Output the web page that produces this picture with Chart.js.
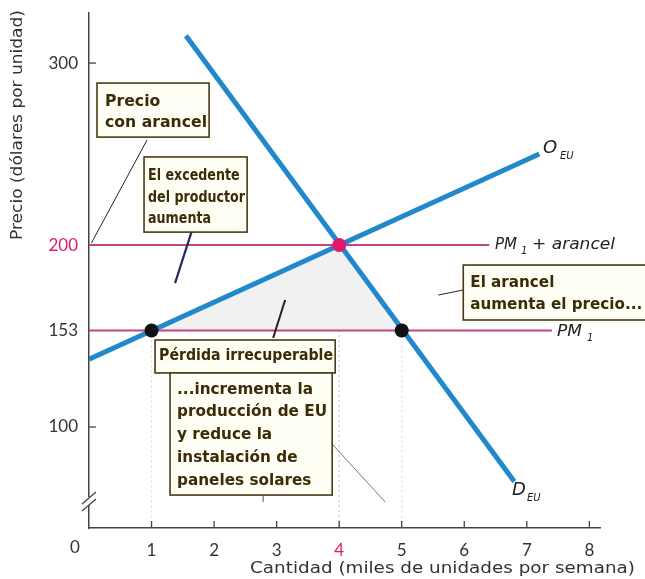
<!DOCTYPE html>
<html>
<head>
<meta charset="utf-8">
<script src="https://cdn.jsdelivr.net/npm/chart.js@4.4.1/dist/chart.umd.min.js"></script>
<style>
  html, body { margin: 0; padding: 0; background: #fff; }
  #wrap { width: 645px; height: 579px; }
</style>
</head>
<body>
<div id="wrap"><canvas id="chart" width="645" height="579"></canvas></div>
<script>
// data
const xTicks = [1, 2, 3, 4, 5, 6, 7, 8]
const yTicks = [100, 153, 200, 300]
const supplyQ = [0, 7.2]
const supplyP = [137.3, 250]
const demandQ = [1.55, 6.8]
const demandP = [315, 70]
const worldPrice = 153
const tariffPrice = 200
const worldLineEnd = 7.4
const tariffLineEnd = 6.4
const lossQ = [1, 4, 5, 1]
const lossP = [153, 200, 153, 153]
const blackQ = [1, 5]
const blackP = [153, 153]
const pinkQ = [4]
const pinkP = [200]

const BLUE = '#2189cb'
const PINK_LINE = '#c2457e'
const PINK = '#e3186b'
const INK = '#3b2c08'
const FONT = 'Lato, "Open Sans", sans-serif'
const WIDE = '"DejaVu Sans", sans-serif'

const pts = (xs, ys) => xs.map((x, i) => ({ x: x, y: ys[i] }))

// boxes in data units: (q0, p0) top-left, (q1, p1) bottom-right; text offsets in px from the box corner
const boxes = [
    { q0: 0.128, p0: 289, q1: 1.92, p1: 259.3, lines: ['Precio', 'con arancel'], dx: 8, dy: [19, 40], w: 102, size: 16 },
    { q0: 0.88, p0: 248.4, q1: 2.528, p1: 207.1, lines: ['El excedente', 'del productor', 'aumenta'], dx: 4, dy: [19, 41, 62], w: 97, size: 15 },
    { q0: 5.984, p0: 189, q1: 8.98, p1: 158.8, lines: ['El arancel', 'aumenta el precio...'], dx: 7, dy: [18, 40], w: 172, size: 16 },
    { q0: 1.056, p0: 147.8, q1: 3.936, p1: 129.7, lines: ['Pérdida irrecuperable'], dx: 4, dy: [16], w: 174, size: 16 },
    { q0: 1.296, p0: 129.7, q1: 3.888, p1: 62.6, lines: ['...incrementa la', 'producción de EU', 'y reduce la', 'instalación de', 'paneles solares'], dx: 7, dy: [17, 39, 62, 85, 108], w: 150, size: 16 }
]
const leaders = [
    { a: [0.928, 257.7], b: [0.04, 201.2], color: '#222', w: 1 },
    { a: [1.648, 208.2], b: [1.376, 179.1], color: '#1d2c55', w: 2.2 },
    { a: [3.136, 169.8], b: [2.944, 148.9], color: '#222', w: 2 },
    { a: [5.584, 172.5], b: [5.984, 175.3], color: '#222', w: 1 },
    { a: [3.856, 91.8], b: [4.736, 58.8], color: '#777', w: 1 },
    { a: [2.784, 62.1], b: [2.784, 58.8], color: '#555', w: 1 }
]

// draw text squeezed or stretched to a given width
function fitText(ctx, text, x, y, width) {
    const m = ctx.measureText(text).width
    ctx.save()
    ctx.translate(x, y)
    ctx.scale(width / m, 1)
    ctx.fillText(text, 0, 0)
    ctx.restore()
}

const overlay = {
    id: 'overlay',
    beforeDatasetsDraw(chart) {
        const ctx = chart.ctx
        const xs = chart.scales.x, ys = chart.scales.y
        ctx.save()
        ctx.lineWidth = 1.2
        ctx.setLineDash([2, 3])
        ctx.strokeStyle = '#eab6cc'
        ctx.beginPath()
        ctx.moveTo(xs.getPixelForValue(4), ys.getPixelForValue(tariffPrice))
        ctx.lineTo(xs.getPixelForValue(4), ys.bottom)
        ctx.stroke()
        ctx.strokeStyle = '#dcdcdc'
        blackQ.forEach(q => {
            ctx.beginPath()
            ctx.moveTo(xs.getPixelForValue(q), ys.getPixelForValue(worldPrice))
            ctx.lineTo(xs.getPixelForValue(q), ys.bottom)
            ctx.stroke()
        })
        ctx.restore()
    },
    afterDraw(chart) {
        const ctx = chart.ctx
        const xs = chart.scales.x, ys = chart.scales.y
        const X = v => xs.getPixelForValue(v)
        const Y = v => ys.getPixelForValue(v)
        ctx.save()

        // inward tick marks
        ctx.strokeStyle = '#444'
        ctx.lineWidth = 1.3
        ;[100, 300].forEach(v => {
            ctx.beginPath(); ctx.moveTo(xs.left, Y(v)); ctx.lineTo(xs.left + 7, Y(v)); ctx.stroke()
        })
        xTicks.forEach(v => {
            ctx.beginPath(); ctx.moveTo(X(v), ys.bottom); ctx.lineTo(X(v), ys.bottom - 7); ctx.stroke()
        })
        // axis break
        ctx.fillStyle = '#fff'
        ctx.fillRect(xs.left - 2, 497, 4, 8)
        ctx.beginPath()
        ctx.moveTo(xs.left - 7, 504); ctx.lineTo(xs.left + 7, 492)
        ctx.moveTo(xs.left - 7, 511); ctx.lineTo(xs.left + 7, 499)
        ctx.stroke()

        // origin and axis titles
        ctx.fillStyle = '#333'
        ctx.font = '17px ' + FONT
        ctx.textAlign = 'center'
        ctx.textBaseline = 'middle'
        ctx.fillText('0', 75, 548)
        ctx.textAlign = 'left'
        ctx.font = '15px ' + WIDE
        fitText(ctx, 'Cantidad (miles de unidades por semana)', 250, 569, 385)
        ctx.save()
        ctx.translate(18, 240)
        ctx.rotate(-Math.PI / 2)
        fitText(ctx, 'Precio (dólares por unidad)', 0, 0, 230)
        ctx.restore()

        // curve labels
        ctx.fillStyle = '#222'
        ctx.font = 'oblique 18px ' + WIDE
        ctx.fillText('O', 543, 148)
        ctx.fillText('D', 512, 490)
        ctx.font = 'oblique 10px ' + WIDE
        ctx.fillText('EU', 560, 156)
        ctx.fillText('EU', 527, 498)
        ctx.font = 'oblique 15px ' + WIDE
        fitText(ctx, 'PM', 495, 245, 22)
        fitText(ctx, '+ arancel', 532, 245, 83)
        fitText(ctx, 'PM', 557, 332, 25)
        ctx.font = 'oblique 10px ' + WIDE
        ctx.fillText('1', 521, 251)
        ctx.fillText('1', 587, 338)

        // leader lines
        leaders.forEach(l => {
            ctx.strokeStyle = l.color
            ctx.lineWidth = l.w
            ctx.beginPath()
            ctx.moveTo(X(l.a[0]), Y(l.a[1]))
            ctx.lineTo(X(l.b[0]), Y(l.b[1]))
            ctx.stroke()
        })

        // annotation boxes
        boxes.forEach(b => {
            const x0 = X(b.q0), y0 = Y(b.p0), x1 = X(b.q1), y1 = Y(b.p1)
            ctx.fillStyle = '#fffef4'
            ctx.fillRect(x0, y0, x1 - x0, y1 - y0)
            ctx.strokeStyle = '#4a3a12'
            ctx.lineWidth = 1.6
            ctx.strokeRect(x0, y0, x1 - x0, y1 - y0)
            ctx.fillStyle = INK
            ctx.font = 'bold ' + b.size + 'px ' + WIDE
            ctx.textAlign = 'left'
            ctx.textBaseline = 'middle'
            const widest = Math.max(...b.lines.map(t => ctx.measureText(t).width))
            const k = b.w / widest
            b.lines.forEach((t, i) => {
                ctx.save()
                ctx.translate(x0 + b.dx, y0 + b.dy[i])
                ctx.scale(k, 1)
                ctx.fillText(t, 0, 0)
                ctx.restore()
            })
        })
        ctx.restore()
    }
}

new Chart(document.getElementById('chart'), {
    type: 'scatter',
    data: {
        datasets: [
            { data: pts(blackQ, blackP), pointRadius: 7, pointBackgroundColor: '#111', pointBorderWidth: 0, order: 0 },
            { data: pts(pinkQ, pinkP), pointRadius: 7, pointBackgroundColor: PINK, pointBorderWidth: 0, order: 0 },
            { data: pts(supplyQ, supplyP), showLine: true, borderColor: BLUE, borderWidth: 5, pointRadius: 0, order: 1 },
            { data: pts(demandQ, demandP), showLine: true, borderColor: BLUE, borderWidth: 5, pointRadius: 0, order: 1 },
            { data: pts([0, tariffLineEnd], [tariffPrice, tariffPrice]), showLine: true, borderColor: PINK_LINE, borderWidth: 2, pointRadius: 0, order: 2 },
            { data: pts([0, worldLineEnd], [worldPrice, worldPrice]), showLine: true, borderColor: PINK_LINE, borderWidth: 2, pointRadius: 0, order: 2 },
            { data: pts(lossQ, lossP), showLine: true, fill: 'shape', backgroundColor: '#f1f1f1', borderWidth: 0, pointRadius: 0, order: 5 }
        ]
    },
    options: {
        responsive: false,
        animation: false,
        layout: { padding: { top: 13, right: 45, left: 0, bottom: 0 } },
        plugins: { legend: { display: false }, tooltip: { enabled: false } },
        scales: {
            x: {
                type: 'linear', min: 0, max: 8.17,
                grid: { display: false, drawTicks: false },
                border: { color: '#444', width: 1.5 },
                ticks: {
                    padding: 12,
                    font: { size: 17, family: FONT },
                    color: c => c.tick && c.tick.value === 4 ? PINK : '#333'
                },
                afterBuildTicks: s => { s.ticks = xTicks.map(v => ({ value: v })) },
                afterFit: s => { s.height = 51; s.paddingLeft = 0; s.paddingRight = 0 }
            },
            y: {
                type: 'linear', min: 44.5, max: 327.5,
                grid: { display: false, drawTicks: false },
                border: { color: '#444', width: 1.5 },
                ticks: {
                    padding: 11,
                    font: { size: 17, family: FONT },
                    color: c => c.tick && c.tick.value === 200 ? PINK : '#333'
                },
                afterBuildTicks: s => { s.ticks = yTicks.map(v => ({ value: v })) },
                afterFit: s => { s.width = 89; s.paddingTop = 0; s.paddingBottom = 0 }
            }
        }
    },
    plugins: [overlay]
})
</script>
</body>
</html>
